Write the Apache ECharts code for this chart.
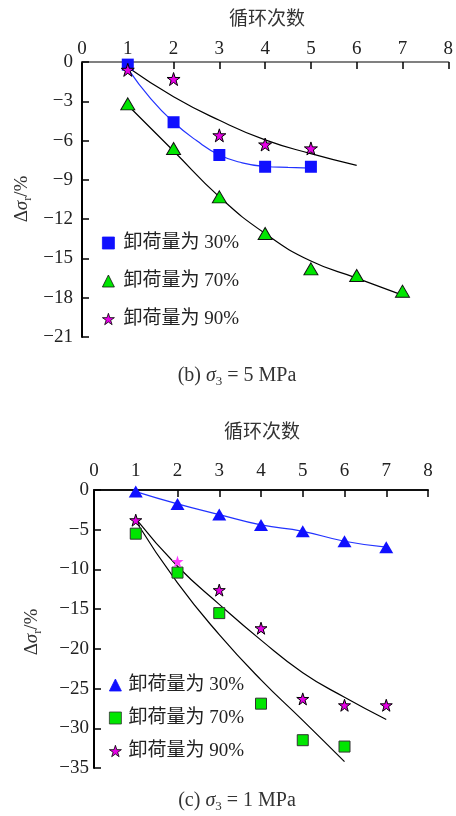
<!DOCTYPE html>
<html><head><meta charset="utf-8">
<script src="https://cdn.jsdelivr.net/npm/echarts@6/dist/echarts.min.js"></script>
<style>html,body{margin:0;padding:0;background:#fff}#c{width:456px;height:816px}</style>
</head><body><div id="c"></div>
<script>
// ---- data ----
const cycles = [1, 2, 3, 4, 5, 6, 7];
const xTickLabels = ['0', '1', '2', '3', '4', '5', '6', '7', '8'];
// (b) sigma3 = 5 MPa
const b30 = [-0.2, -4.6, -7.1, -8.0, -8.0];
const b70 = [-3.2, -6.6, -10.3, -13.1, -15.8, -16.3, -17.5];
const b90 = [-0.6, -1.3, -5.6, -6.3, -6.6];
// fitted curves
const b30fitX = [1, 1.5, 2, 2.5, 3, 3.5, 4, 4.5, 5];
const b30fit = [-0.5, -2.8, -4.6, -6.0, -7.1, -7.7, -7.98, -8.05, -8.1];
const b70fit = [-3.3, -6.8, -10.3, -13.1, -15.2, -16.5, -17.8];
const b90fit = [-0.4, -2.65, -4.45, -5.95, -7.0, -7.9];
// (c) sigma3 = 1 MPa
const c30 = [-0.2, -1.75, -3.1, -4.4, -5.2, -6.45, -7.2];
const c70 = [-5.5, -10.4, -15.5, -26.9, -31.5, -32.3];
const c90 = [-3.8, -9.0, -12.6, -17.4, -26.3, -27.1, -27.1];
const c30fit = [-0.2, -1.75, -3.1, -4.4, -5.2, -6.45, -7.2];
const c70fit = [-3.9, -11.7, -18.2, -23.9, -29.0, -34.2];
const c90fit = [-3.6, -9.6, -14.4, -18.9, -23.0, -26.1, -28.9];
const names = ['卸荷量为 30%', '卸荷量为 70%', '卸荷量为 90%'];

// ---- helpers ----
const pts = (arr, xs) => arr.map((v, i) => [(xs || cycles)[i], v]);
const SERIF = "'Liberation Serif','Times New Roman','Noto Sans CJK SC',serif";
const STAR = 'path://M50,0 L61.8,36.2 L100,36.2 L69.1,58.6 L80.9,95 L50,72.6 L19.1,95 L30.9,58.6 L0,36.2 L38.2,36.2 Z';
const fmt = v => (v < 0 ? '\u2212' + Math.abs(v) : String(v));
const BLUE = '#1010ff', GREEN = '#00e600', MAG = '#e600e6';

function xAxisCfg(gi, lineColor, margin) {
  return {
    type: 'value', gridIndex: gi, position: 'top', min: 0, max: 8, interval: 1,
    axisLine: { show: true, onZero: false, lineStyle: { color: lineColor, width: 2 } },
    axisTick: { show: true, inside: true, length: 7, lineStyle: { color: '#000', width: 1.5 } },
    axisLabel: { margin: margin, color: '#222', fontFamily: SERIF, fontSize: 19,
      formatter: v => xTickLabels[v] },
    splitLine: { show: false }
  };
}
function yAxisCfg(gi, min, interval, margin) {
  return {
    type: 'value', gridIndex: gi, min: min, max: 0, interval: interval,
    axisLine: { show: true, onZero: false, lineStyle: { color: '#000', width: 2 } },
    axisTick: { show: true, inside: true, length: 7, lineStyle: { color: '#000', width: 1.5 } },
    axisLabel: { margin: margin, color: '#222', fontFamily: SERIF, fontSize: 19, formatter: fmt },
    splitLine: { show: false }
  };
}
function fit(gi, arr, color, xs) {
  return { type: 'line', xAxisIndex: gi, yAxisIndex: gi, data: pts(arr, xs), smooth: 0.5,
    showSymbol: false, symbol: 'none', silent: true, z: 1,
    lineStyle: { color: color, width: 1.2 } };
}
function sc(gi, name, arr, symbol, size, color, border) {
  return { type: 'scatter', name: name, xAxisIndex: gi, yAxisIndex: gi,
    data: pts(arr), symbol: symbol, symbolSize: size, z: 3,
    itemStyle: { color: color, borderColor: border || color, borderWidth: border ? 1 : 0, opacity: 1 } };
}

const c90data = pts(c90);
c90data[1] = { value: c90data[1], itemStyle: { color: '#ff3cff', borderWidth: 0 } };

const subRich = {
  t: { fontFamily: SERIF, fontSize: 19, color: '#222', lineHeight: 24 },
  i: { fontFamily: SERIF, fontSize: 19, fontStyle: 'italic', color: '#222', lineHeight: 24 },
  s: { fontFamily: SERIF, fontSize: 12, color: '#222', lineHeight: 12, verticalAlign: 'bottom' }
};
const capRich = {
  t: { fontFamily: SERIF, fontSize: 20, color: '#222', lineHeight: 24 },
  i: { fontFamily: SERIF, fontSize: 20, fontStyle: 'italic', color: '#222', lineHeight: 24 },
  s: { fontFamily: SERIF, fontSize: 13, color: '#222', lineHeight: 11, verticalAlign: 'bottom' }
};
function txt(x, y, text, rich, rot, size) {
  return { type: 'text', x: x, y: y, rotation: rot || 0, silent: true,
    style: { text: text, rich: rich, align: 'center', verticalAlign: 'middle',
      fontFamily: SERIF, fontSize: size || 19, fill: '#333' } };
}
const legendText = { fontFamily: SERIF, fontSize: 19, color: '#222', padding: [0, 0, 0, 4], lineHeight: 22 };

const option = {
  backgroundColor: '#fff',
  animation: false,
  grid: [
    { left: 82, top: 62, width: 369, height: 275, containLabel: false },
    { left: 94, top: 490, width: 334, height: 278, containLabel: false }
  ],
  xAxis: [xAxisCfg(0, '#808080', 3), xAxisCfg(1, '#111', 9)],
  yAxis: [yAxisCfg(0, -21, 3, 9), yAxisCfg(1, -35, 5, 5)],
  legend: [
    { data: names, orient: 'vertical', left: 97, top: 227, itemWidth: 12, itemHeight: 12,
      itemGap: 16, selectedMode: false, itemStyle: { borderWidth: 0.8 },
      textStyle: legendText },
    { data: names.map(n => n + ' '), orient: 'vertical', left: 104, top: 669, itemWidth: 12, itemHeight: 12,
      itemGap: 11, selectedMode: false, itemStyle: { borderWidth: 0.8 },
      textStyle: Object.assign({}, legendText, { padding: [0, 0, 0, 2] }) }
  ],
  graphic: [
    txt(267, 20, '循环次数', null, 0, 19),
    txt(262, 433, '循环次数', null, 0, 19),
    txt(22, 199, '{t|Δ}{i|σ}{s|r}{t|/%}', subRich, Math.PI / 2),
    txt(32, 632, '{t|Δ}{i|σ}{s|r}{t|/%}', subRich, Math.PI / 2),
    txt(237, 376, '{t|(b) }{i|σ}{s|3}{t| = 5 MPa}', capRich, 0),
    txt(237, 801, '{t|(c) }{i|σ}{s|3}{t| = 1 MPa}', capRich, 0)
  ],
  series: [
    sc(0, names[0], b30, 'rect', 12, BLUE, null),
    sc(0, names[1], b70, 'triangle', [14, 12], GREEN, '#111'),
    sc(0, names[2], b90, STAR, 13, MAG, '#000'),
    fit(0, b30fit, '#2233ff', b30fitX),
    fit(0, b70fit, '#000'),
    fit(0, b90fit, '#000'),
    sc(1, names[0] + ' ', c30, 'triangle', [14, 12], BLUE, null),
    sc(1, names[1] + ' ', c70, 'rect', 11, GREEN, '#333'),
    Object.assign(sc(1, names[2] + ' ', c90, STAR, 12, MAG, '#000'), { data: c90data }),
    fit(1, c30fit, '#2233ff'),
    fit(1, c70fit, '#000'),
    fit(1, c90fit, '#000')
  ]
};
const chart = echarts.init(document.getElementById('c'), null, { renderer: 'canvas' });
chart.setOption(option);
</script></body></html>
